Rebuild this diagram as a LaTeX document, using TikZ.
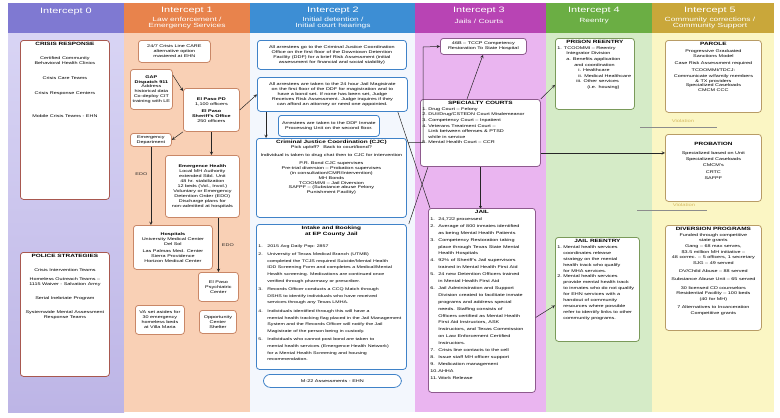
\documentclass[tikz,border=0pt]{standalone}
\usepackage{fontspec}
\setmainfont{Liberation Sans}[FakeStretch=1.4]
\usepackage{xcolor}
\definecolor{simPurple}{HTML}{7F79D2}
\definecolor{simPurpleLt}{HTML}{D8D4F4}
\definecolor{simPurpleBg}{HTML}{BDB5E6}
\definecolor{simPurpleLine}{HTML}{A8584F}
\definecolor{simOrange}{HTML}{E8834C}
\definecolor{simOrangeLt}{HTML}{F9D0B5}
\definecolor{simOrangeLine}{HTML}{C98767}
\definecolor{simBlue}{HTML}{3D8ED4}
\definecolor{simBlueLt}{HTML}{F3F7FD}
\definecolor{simBlueLine}{HTML}{3F82C8}
\definecolor{simMagenta}{HTML}{B844B4}
\definecolor{simMagentaLt}{HTML}{EAB5F0}
\definecolor{simMagentaLine}{HTML}{8E5A8E}
\definecolor{simGreen}{HTML}{6BAE44}
\definecolor{simGreenLt}{HTML}{D5EBC7}
\definecolor{simGreenLine}{HTML}{7A9A5A}
\definecolor{simGold}{HTML}{C9A73A}
\definecolor{simGoldLt}{HTML}{FBF6C4}
\definecolor{simGoldLine}{HTML}{B89C66}
\usepackage{tikz}
\usetikzlibrary{arrows.meta}

\newcommand{\boxfont}{\fontsize{3.9}{4.9}\selectfont}
\newcommand{\boxtitle}{\fontsize{4.6}{5.8}\selectfont\bfseries}
\newcommand{\headfont}{\fontsize{7.8}{8.5}\selectfont}
\newcommand{\subfont}{\fontsize{6}{6.8}\selectfont}
\newcommand{\boxtext}[4][t]{\parbox[t][#3][#1]{#2}{\centering #4}}
\newcommand{\itm}[2][6pt]{\par\hangindent=#1\noindent\makebox[#1][l]{#2}}

\begin{document}
\begin{tikzpicture}[x=1pt,y=-1pt,>=stealth,
    box/.style={draw=#1, fill=white, rounded corners=3pt, line width=0.8pt,
      inner sep=2pt, anchor=north west, font=\boxfont},
    head/.style={text=white, align=center, font=\headfont, inner sep=0pt},
    sub/.style={text=white, align=center, font=\subfont, inner sep=0pt},
    conn/.style={->, line width=0.5pt, black!85},
    wire/.style={line width=0.5pt, black!85},
    viol/.style={font=\fontsize{4.2}{4.2}\selectfont, text=simGold!80, inner sep=1pt}]
  \useasboundingbox (0,0) rectangle (780,418);
  \fill[white] (0,0) rectangle (780,418);
  % ---- intercept columns ----
  \fill[top color=simPurpleLt, bottom color=simPurpleBg] (8,33) rectangle (124,412);
  \fill[simOrangeLt] (124,33) rectangle (250,412);
  \fill[simBlueLt] (250,33) rectangle (415,412);
  \fill[simMagentaLt] (415,33) rectangle (546,412);
  \fill[simGreenLt] (546,33) rectangle (652,412);
  \fill[simGoldLt] (652,33) rectangle (774,412);
  \fill[simPurple] (8,3) rectangle (124,33);
  \fill[simOrange] (124,3) rectangle (250,33);
  \fill[simBlue] (250,3) rectangle (415,33);
  \fill[simMagenta] (415,3) rectangle (546,33);
  \fill[simGreen] (546,3) rectangle (652,33);
  \fill[simGold] (652,3) rectangle (774,33);
  \node[head] (h0) at (66,12) {Intercept 0};
  \node[head] (h1) at (187,11) {Intercept 1};
  \node[sub] (h1s) at (187,23) {Law enforcement /\\ Emergency Services};
  \node[head] (h2) at (333,11) {Intercept 2};
  \node[sub] (h2s) at (333,23) {Initial detention /\\ Initial court hearings};
  \node[head] (h3) at (479,11) {Intercept 3};
  \node[sub] (h3s) at (479,21) {Jails / Courts};
  \node[head] (h4) at (594,11) {Intercept 4};
  \node[sub] (h4s) at (594,21) {Reentry};
  \node[head] (h5) at (710,11) {Intercept 5};
  \node[sub] (h5s) at (710,23) {Community corrections /\\ Community Support};

  % ---- intercept 0 ----
  \node[box=simPurpleLine] (crisis) at (20,40) {\boxtext{85pt}{155pt}{{\boxtitle CRISIS RESPONSE\par}\vspace{9pt}
    Certified Community\\ Behavioral Health Clinics\par\vspace{10pt}
    Crisis Care Teams\par\vspace{10pt}
    Crisis Response Centers\par\vspace{18pt}
    Mobile Crisis Teams - EHN}};
  \node[box=simPurpleLine] (police) at (20,252) {\boxtext{85pt}{120pt}{{\boxtitle POLICE STRATEGIES\par}\vspace{9pt}
    Crisis Intervention Teams\par\vspace{4pt}
    Homeless Outreach Teams --\\ 1115 Waiver - Salvation Army\par\vspace{9pt}
    Serial Inebriate Program\par\vspace{9pt}
    Systemwide Mental Assessment\\ Response Teams}};

  % ---- intercept 1 ----
  \node[box=simOrangeLine] (care) at (138,40) {\boxtext[c]{68pt}{18pt}{24/7 Crisis Line CARE\\ alternative option\\ mastered at EHN}};
  \node[box=simOrangeLine] (gap) at (130,69) {\boxtext[c]{38pt}{36pt}{\textbf{GAP}\\ \textbf{Dispatch 911}\\ Address\\ historical data\\ Co-deploy CIT\\ training with LE}};
  \node[box=simOrangeLine] (pd) at (183,88) {\boxtext[c]{52pt}{39pt}{\textbf{El Paso PD}\\ 1,100 officers\par\vspace{2pt}
    \textbf{El Paso}\\ \textbf{Sheriff's Office}\\ 250 officers}};
  \node[box=simOrangeLine] (ed) at (130,133) {\boxtext[c]{37pt}{9pt}{Emergency\\ Department}};
  \node[box=simOrangeLine] (eh) at (165,155) {\boxtext[c]{70pt}{58pt}{\textbf{Emergence Health}\\ Local MH Authority\\ extended Stbl. Unit\\ 48 hr. stabilization\\ 12 beds (Vol., Invol.)\\ Voluntary or Emergency\\ Detention Order (EDO)\\ Discharge plans for\\ non-admitted at hospitals}};
  \node[box=simOrangeLine] (hosp) at (133,225) {\boxtext[c]{75pt}{40pt}{\textbf{Hospitals}\\ University Medical Center\\ Del Sol\par\vspace{2pt}
    Las Palmas Med. Center\\ Sierra Providence\\ Horizon Medical Center}};
  \node[box=simOrangeLine] (psych) at (198,272) {\boxtext[c]{36pt}{25pt}{El Paso\\ Psychiatric\\ Center}};
  \node[box=simOrangeLine] (va) at (135,305) {\boxtext[c]{45pt}{25pt}{VA set asides for\\ 30 emergency\\ homeless beds\\ at Villa Maria}};
  \node[box=simOrangeLine] (opp) at (199,310) {\boxtext[c]{33pt}{19pt}{Opportunity\\ Center\\ Shelter}};

  % ---- intercept 2 ----
  \node[box=simBlueLine] (arrest1) at (257,40) {\boxtext[c]{145pt}{25pt}{All arrestees go to the Criminal Justice Coordination\\ Office on the first floor of the Downtown Detention\\ Facility (DDF) for a brief Risk Assessment (initial\\ assessment for financial and social stability)}};
  \node[box=simBlueLine] (arrest2) at (257,77) {\boxtext[c]{146pt}{30pt}{All arrestees are taken to the 24 hour Jail Magistrate\\ on the first floor of the DDF for magistration and to\\ have a bond set. If none has been set, Judge\\ Receives Risk Assessment. Judge inquires if they\\ can afford an attorney or need one appointed.}};
  \node[box=simBlueLine] (inproc) at (278,115) {\boxtext[c]{97pt}{17pt}{Arrestees are taken to the DDF Inmate\\ Processing Unit on the second floor.}};
  \node[box=simBlueLine] (cjc) at (256,138) {\boxtext{146pt}{75pt}{{\boxtitle Criminal Justice Coordination (CJC)\par}
    Pick up/off?\quad Back to court/bond?\par\vspace{3pt}
    Individual is taken to drug chat then to CJC for intervention\par\vspace{3pt}
    P.R. Bond CJC supervises\\ Pre-trial diversion -- Probation supervises\\ (in consultation/CMR/Intervention)\\ MH Bonds\\ TCOOMMI -- Jail Diversion\\ SAFPF -- (Substance abuse Felony\\ Punishment Facility)}};
  \node[box=simBlueLine] (intake) at (256,224) {\boxtext{146pt}{141pt}{\fontsize{3.75}{6.6}\selectfont
    {\boxtitle Intake and Booking\\ at EP County Jail\par}\vspace{5pt}\raggedright
    \itm[9pt]{1.}2015 Avg Daily Pop: 2857\par\vspace{2pt}
    \itm[9pt]{2.}University of Texas Medical Branch (UTMB)\newline completed the TCJS required Suicide/Mental Health\newline IDD Screening Form and completes a Medical/Mental\newline Health screening. Medications are continued once\newline verified through pharmacy or prescriber.\par\vspace{2pt}
    \itm[9pt]{3.}Records Officer conducts a CCQ Match through\newline DSHS to identify individuals who have received\newline services through any Texas LMHA.\par\vspace{2pt}
    \itm[9pt]{4.}Individuals identified through this will have a\newline mental health tracking flag placed in the Jail Management\newline System and the Records Officer will notify the Jail\newline Magistrate of the person being in custody.\par\vspace{2pt}
    \itm[9pt]{5.}Individuals who cannot post bond are taken to\newline mental health services (Emergence Health Network)\newline for a Mental Health Screening and housing\newline recommendation.}};
  \node[box=simBlueLine, rounded corners=7pt] (m22) at (263,374) {\boxtext[c]{134pt}{9pt}{M-22 Assessments - EHN}};

  % ---- intercept 3 ----
  \node[box=simMagentaLine] (b46) at (440,38) {\boxtext[c]{82pt}{12pt}{46B -- TCCP Competency\\ Restoration To State Hospital}};
  \node[box=simMagentaLine] (spec) at (420,99) {\boxtext{116pt}{63pt}{\fontsize{3.9}{5.6}\selectfont
    {\boxtitle SPECIALTY COURTS\par}\raggedright
    \itm{1.}Drug Court -- Felony
    \itm{2.}DUI/Drug/CSTEDN Court Misdemeanor
    \itm{3.}Competency Court -- Inpatient
    \itm{4.}Veterans Treatment Court --\newline Link between offenses \& PTSD\newline while in service
    \itm{5.}Mental Health Court -- CCR}};
  \node[box=simMagentaLine] (jail) at (428,208) {\boxtext{103pt}{180pt}{\fontsize{3.9}{6.9}\selectfont
    {\boxtitle JAIL\par}\raggedright
    \itm[8pt]{1.}24,722 processed
    \itm[8pt]{2.}Average of 800 inmates identified\newline as being Mental Health Patients
    \itm[8pt]{3.}Competency Restoration taking\newline place through Texas State Mental\newline Health Hospitals
    \itm[8pt]{4.}92\% of Sheriff's Jail supervisors\newline trained in Mental Health First Aid
    \itm[8pt]{5.}24 new Detention Officers trained\newline in Mental Health First Aid
    \itm[8pt]{6.}Jail Administration and Support\newline Division created to facilitate inmate\newline programs and address special\newline needs. Staffing consists of\newline Officers certified as Mental Health\newline First Aid Instructors, ASK\newline Instructors, and Texas Commission\newline on Law Enforcement Certified\newline Instructors.
    \itm[8pt]{7.}Crisis line contacts to the cell
    \itm[8pt]{8.}Issue staff MH officer support
    \itm[8pt]{9.}Medication management
    \itm[8pt]{10.}AHHA
    \itm[8pt]{11.}Work Release}};

  % ---- intercept 4 ----
  \node[box=simGreenLine] (prison) at (555,38) {\boxtext{75pt}{67pt}{\fontsize{3.9}{5.6}\selectfont
    {\boxtitle PRISON REENTRY\par}\raggedright
    1. TCOOMMI -- Reentry\\ \hspace*{9pt}Integrator Division\\ \hspace*{9pt}a. Benefits application\\ \hspace*{17pt}and coordination\\ \hspace*{21pt}i. Healthcare\\ \hspace*{21pt}ii. Medical Healthcare\\ \hspace*{19pt}iii. Other services\\ \hspace*{30pt}(i.e. housing)}};
  \node[box=simGreenLine] (jailre) at (555,237) {\boxtext{80pt}{100pt}{\fontsize{3.9}{5.9}\selectfont
    {\boxtitle JAIL REENTRY\par}\raggedright
    \itm{1.}Mental health services\newline coordinates release\newline strategy on the mental\newline health track who qualify\newline for MHA services.
    \itm{2.}Mental health services\newline provide mental health track\newline to inmates who do not qualify\newline for EHN services with a\newline handout of community\newline resources where possible\newline refer to identify links to other\newline community programs.}};

  % ---- intercept 5 ----
  \node[box=simGoldLine] (parole) at (665,40) {\boxtext{92pt}{68pt}{{\boxtitle PAROLE\par}\vspace{2pt}
    Progressive Graduated\\ Sanctions Model\par\vspace{2pt}
    Case Risk Assessment required\par\vspace{2pt}
    TCOOMMI/TDCJ:\par\vspace{1pt}
    Communicate w/family members\\ \& TX providers\\ Specialized Caseloads\\ CMCM CCC}};
  \node[box=simGoldLine] (probation) at (665,134) {\boxtext{92pt}{63pt}{\fontsize{3.9}{6.4}\selectfont
    \vspace*{6pt}{\boxtitle PROBATION\par}\vspace{2pt}
    Specialized based on Unit\\ Specialized Caseloads\\ CMCM's\\ CRTC\\ SAFPF}};
  \node[box=simGoldLine] (diversion) at (665,225) {\boxtext{92pt}{101pt}{\fontsize{3.9}{5.6}\selectfont
    {\boxtitle DIVERSION PROGRAMS\par}
    Funded through competitive\\ state grants\\ Gang -- 68 max serves,\\ \$3.5 million MH initiative --\\ 48 correc. -- 5 officers, 1 secretary\\ SJG -- 49 served\par\vspace{3pt}
    DV/Child Abuse -- 88 served\par\vspace{2pt}
    Substance Abuse Unit -- 65 served\par\vspace{3pt}
    30 licensed CD counselors\\ Residential Facility -- 100 beds\\ (40 for MH)\par\vspace{3pt}
    7 Alternatives to Incarceration\\ Competitive grants}};
  \draw[black!45, line width=0.6pt] (640,127) -- (717,127);
  \node[viol] (viol1) at (683,121) {Violation};
  \draw[black!45, line width=0.6pt] (637,210) -- (707,210);
  \node[viol] (viol2) at (684,205) {Violation};

  % ---- connectors ----
  \draw[conn] ([yshift=-6pt]gap.north east) -- ([yshift=-3pt]pd.north west);
  \draw[conn] (pd.east) -- (arrest2.west);
  \draw[conn] (pd.south west) -- (ed.east);
  \draw[conn] (pd.south) -- (pd.south |- eh.north);
  \draw[conn] (ed.south) -- (ed.south |- hosp.north)
    node[pos=0.35, left, font=\boxfont] {EDO};
  \draw[conn] (eh.south -| psych.north) -- (psych.north)
    node[midway, right, font=\boxfont] {EDO};
  \coordinate (arrL) at ([xshift=9pt]arrest2.south west);
  \draw[conn] (arrL) -- (arrL |- cjc.north);
  % crossing lines between intercepts 2 and 3
  \coordinate (arrR) at ([xshift=-10pt]arrest2.south east);
  \coordinate (jailL) at ([xshift=2pt]jail.north west);
  \draw[wire] (arrR) -- (jailL) coordinate[pos=0.32] (arrJ);
  \coordinate (bend) at (423,47);
  \draw[conn] (arrJ) -- (bend |- arrJ) -- (bend) -- (b46.west);
  \coordinate (specL) at ([xshift=8pt]spec.south west);
  \draw[wire] (specL) -- ([xshift=2pt]intake.north east);
  \draw[conn] ([xshift=47pt]spec.north west) -- ([xshift=43pt]b46.south west);
  \draw[conn] (spec.north east) -- ([yshift=-11pt]prison.west);
  \coordinate (specR) at ([yshift=-20pt]spec.east);
  \draw[conn] (specR) -- (specR -| probation.west);
  \draw[-{Circle[length=2.5pt]}, wire] (spec.south) -- (spec.south |- jail.north);
  \draw[conn] ([yshift=-17pt]jail.east) -- ([yshift=-16pt]jailre.west);
\end{tikzpicture}
\end{document}
